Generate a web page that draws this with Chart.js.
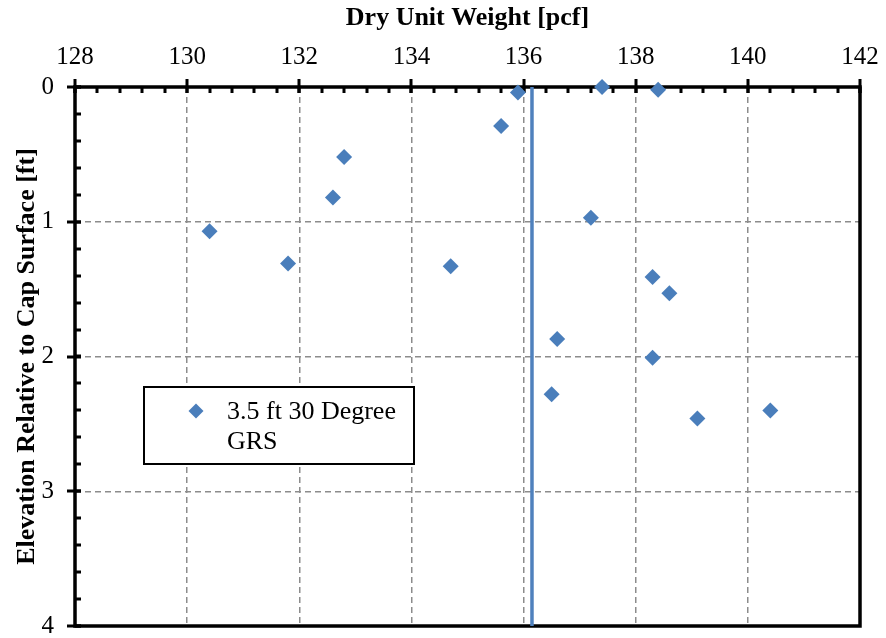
<!DOCTYPE html>
<html>
<head>
<meta charset="utf-8">
<script src="https://cdn.jsdelivr.net/npm/chart.js@4.4.1/dist/chart.umd.min.js"></script>
<style>
  html, body { margin: 0; padding: 0; background: #fff; }
  #wrap { width: 886px; height: 638px; }
</style>
</head>
<body>
<div id="wrap"><canvas id="c" width="886" height="638"></canvas></div>
<script>
// Dry unit weight measurements vs. depth below the cap surface
const seriesName = '3.5 ft 30 Degree GRS';
const dryUnitWeight = [135.9, 137.4, 138.4, 135.6, 132.8, 132.6, 137.2, 130.4, 131.8, 134.7, 138.3, 138.6, 136.6, 138.3, 136.5, 139.1, 140.4];
const elevation     = [0.04, 0.0, 0.02, 0.29, 0.52, 0.82, 0.97, 1.07, 1.31, 1.33, 1.41, 1.53, 1.87, 2.01, 2.28, 2.46, 2.40];

// Reference (average) dry unit weight drawn as a vertical line
const averageWeight = 136.15;

// Axis ranges and tick steps
const xRange = [128, 142];
const yRange = [0, 4];
const xMajorStep = 2, xMinorStep = 0.4;
const yMajorStep = 1, yMinorStep = 0.2;

const SERIF = '"Liberation Serif", "Times New Roman", serif';
const BLUE = '#4A7EBB';

const points = dryUnitWeight.map((x, i) => ({ x, y: elevation[i] }));
const avgLine = [{ x: averageWeight, y: yRange[0] }, { x: averageWeight, y: yRange[1] }];

// Frame with crossing major ticks and inside minor ticks (under the markers),
// then the boxed legend on top
const framePlugin = {
  id: 'frame',
  beforeDatasetsDraw(chart) {
    const { ctx, chartArea: a, scales: { x, y } } = chart;
    ctx.save();
    ctx.strokeStyle = '#000';
    ctx.lineCap = 'butt';
    ctx.setLineDash([]);

    // minor ticks (inside)
    ctx.lineWidth = 3;
    ctx.beginPath();
    for (let v = xRange[0]; v <= xRange[1] + 1e-9; v += xMinorStep) {
      const px = Math.round(x.getPixelForValue(v));
      ctx.moveTo(px, a.top);
      ctx.lineTo(px, a.top + 6);
    }
    for (let v = yRange[0]; v <= yRange[1] + 1e-9; v += yMinorStep) {
      const py = Math.round(y.getPixelForValue(v));
      ctx.moveTo(a.left, py);
      ctx.lineTo(a.left + 6, py);
    }
    ctx.stroke();

    // major ticks (cross the axis)
    ctx.beginPath();
    for (let v = xRange[0]; v <= xRange[1] + 1e-9; v += xMajorStep) {
      const px = Math.round(x.getPixelForValue(v));
      ctx.moveTo(px, a.top - 8);
      ctx.lineTo(px, a.top + 6);
    }
    for (let v = yRange[0]; v <= yRange[1] + 1e-9; v += yMajorStep) {
      const py = Math.round(y.getPixelForValue(v));
      ctx.moveTo(a.left - 8, py);
      ctx.lineTo(a.left + 6, py);
    }
    ctx.stroke();

    // plot frame
    ctx.lineWidth = 3.5;
    ctx.strokeRect(a.left, a.top, a.right - a.left, a.bottom - a.top);
    ctx.restore();
  },
  afterDatasetsDraw(chart) {
    const { ctx } = chart;
    ctx.save();
    ctx.setLineDash([]);

    // legend box
    const lx = 144, ly = 387, lw = 270, lh = 77;
    ctx.fillStyle = '#fff';
    ctx.fillRect(lx, ly, lw, lh);
    ctx.strokeStyle = '#000';
    ctx.lineWidth = 2;
    ctx.strokeRect(lx, ly, lw, lh);

    // legend marker
    const mx = 196, my = 411, mr = 7.5;
    ctx.fillStyle = BLUE;
    ctx.beginPath();
    ctx.moveTo(mx, my - mr);
    ctx.lineTo(mx + mr, my);
    ctx.lineTo(mx, my + mr);
    ctx.lineTo(mx - mr, my);
    ctx.closePath();
    ctx.fill();

    // legend text, wrapped to the box
    ctx.fillStyle = '#000';
    ctx.font = '26px ' + SERIF;
    ctx.textAlign = 'left';
    ctx.textBaseline = 'middle';
    const words = chart.data.datasets[0].label.split(' ');
    const lines = [];
    let cur = '';
    for (const w of words) {
      const t = cur ? cur + ' ' + w : w;
      if (ctx.measureText(t).width > 180 && cur) { lines.push(cur); cur = w; }
      else cur = t;
    }
    if (cur) lines.push(cur);
    lines.forEach((s, i) => ctx.fillText(s, 227, 412 + i * 30));
    ctx.restore();
  }
};

new Chart(document.getElementById('c'), {
  type: 'scatter',
  data: {
    datasets: [
      {
        label: seriesName,
        data: points,
        pointStyle: 'rectRot',
        pointRadius: 8,
        pointHoverRadius: 8,
        backgroundColor: BLUE,
        borderColor: BLUE,
        borderWidth: 0,
        clip: false,
        order: 1
      },
      {
        label: 'Average',
        data: avgLine,
        showLine: true,
        pointRadius: 0,
        borderColor: '#4F81BD',
        borderWidth: 3.5,
        order: 2
      }
    ]
  },
  options: {
    responsive: false,
    animation: false,
    devicePixelRatio: 1,
    layout: { padding: { left: 0, top: 0, right: 26, bottom: 12 } },
    plugins: {
      legend: { display: false },
      tooltip: { enabled: false }
    },
    scales: {
      x: {
        type: 'linear',
        position: 'top',
        min: xRange[0],
        max: xRange[1],
        ticks: {
          stepSize: xMajorStep,
          color: '#000',
          font: { family: SERIF, size: 25 },
          padding: 15,
          maxRotation: 0
        },
        grid: {
          drawTicks: false,
          color: '#8c8c8c',
          lineWidth: 1.5
        },
        border: { display: false, dash: [6, 4] },
        title: {
          display: true,
          text: 'Dry Unit Weight [pcf]',
          color: '#000',
          font: { family: SERIF, size: 26, weight: 'bold' },
          padding: { top: 3, bottom: 0 }
        },
        afterFit(scale) {
          scale.height = 87;
          scale.paddingLeft = 0;
          scale.paddingRight = 0;
        }
      },
      y: {
        type: 'linear',
        reverse: true,
        min: yRange[0],
        max: yRange[1],
        ticks: {
          stepSize: yMajorStep,
          color: '#000',
          font: { family: SERIF, size: 25 },
          padding: 21
        },
        grid: {
          drawTicks: false,
          color: '#8c8c8c',
          lineWidth: 1.5
        },
        border: { display: false, dash: [6, 4] },
        title: {
          display: true,
          text: 'Elevation Relative to Cap Surface [ft]',
          color: '#000',
          font: { family: SERIF, size: 26, weight: 'bold' },
          padding: { top: 12, bottom: 0 }
        },
        afterFit(scale) {
          scale.width = 75;
          scale.paddingTop = 0;
          scale.paddingBottom = 0;
        }
      }
    }
  },
  plugins: [framePlugin]
});
</script>
</body>
</html>
